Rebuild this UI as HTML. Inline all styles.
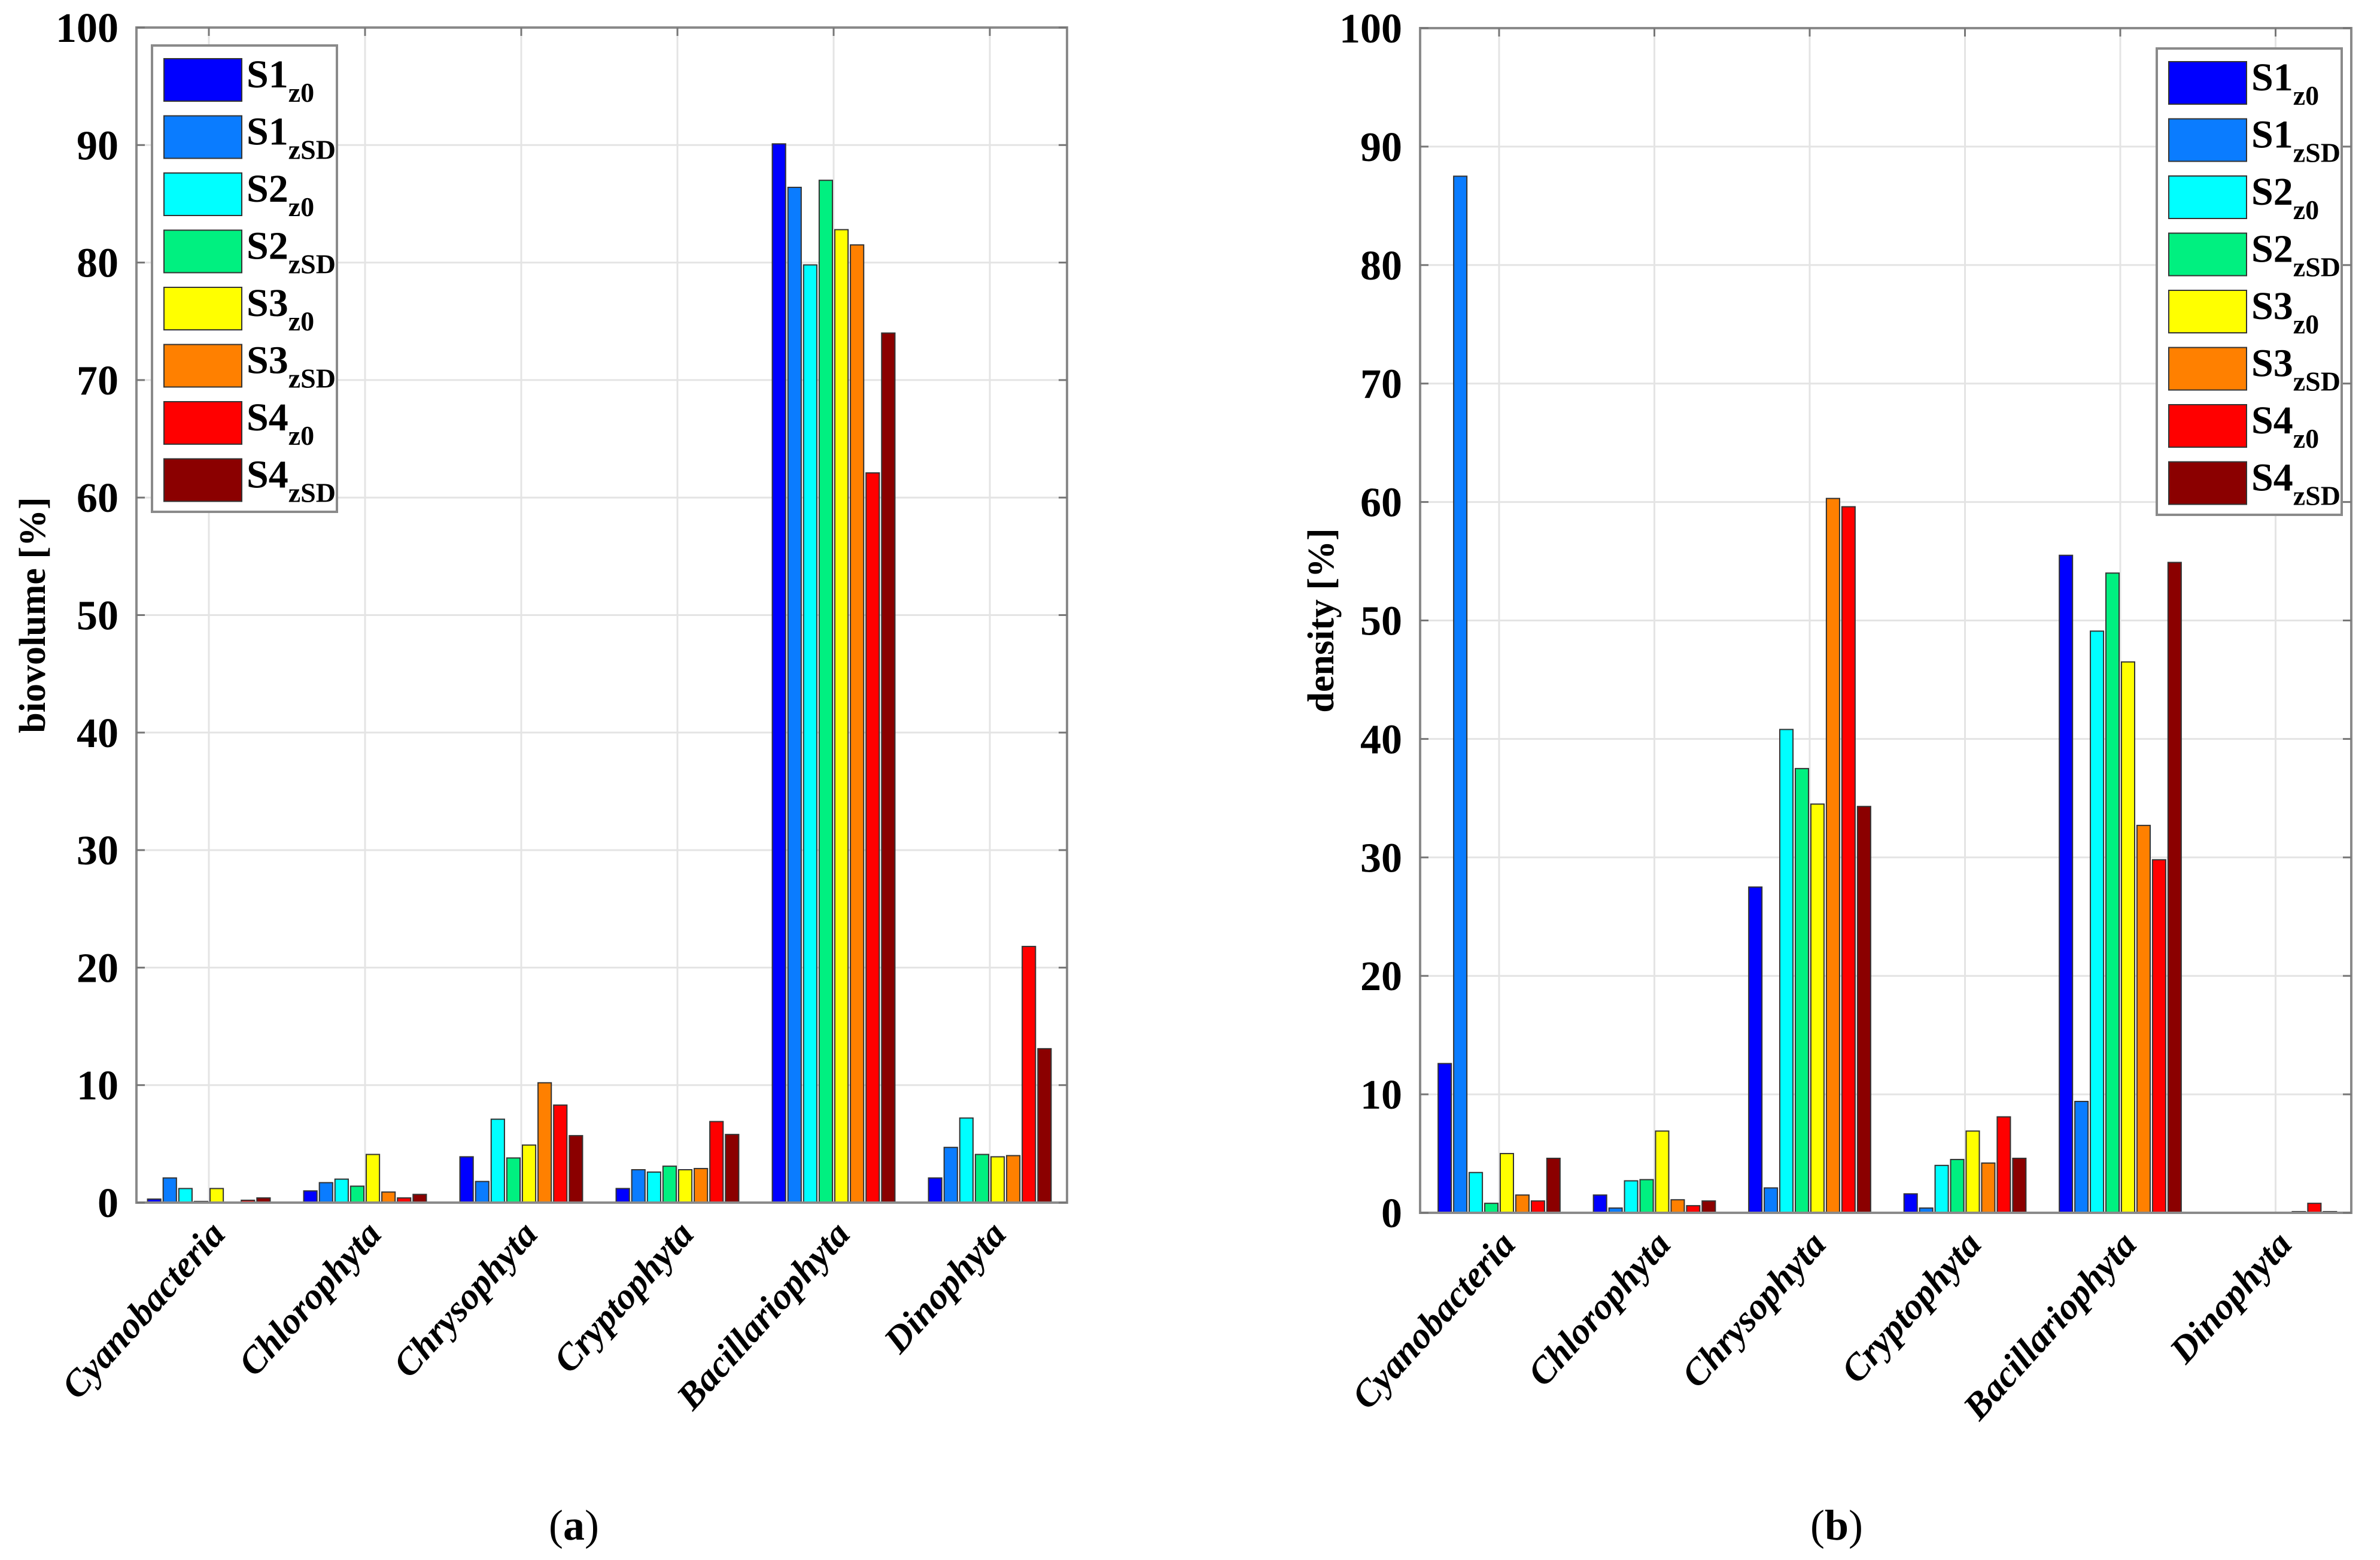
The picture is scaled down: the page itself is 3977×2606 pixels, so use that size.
<!DOCTYPE html>
<html><head><meta charset="utf-8"><style>
html,body{margin:0;padding:0;background:#fff;}
svg{display:block;}
text{font-family:"Liberation Serif",serif;}
</style></head><body>
<svg id="fig" width="3977" height="2606" viewBox="0 0 3977 2606" xmlns="http://www.w3.org/2000/svg"></svg>
<script>
const categories = ["Cyanobacteria","Chlorophyta","Chrysophyta","Cryptophyta","Bacillariophyta","Dinophyta"];
const seriesNames = ["S1|z0","S1|zSD","S2|z0","S2|zSD","S3|z0","S3|zSD","S4|z0","S4|zSD"];
const seriesColors = ["#0000ff","#0a7cff","#00ffff","#00f080","#ffff00","#ff8000","#ff0000","#8b0000"];
const yTicks = [0,10,20,30,40,50,60,70,80,90,100];
// biovolume [%]: rows = series, cols = categories
const bioS1z0  = [0.3, 1.0, 3.9, 1.2, 90.1, 2.1];
const bioS1zSD = [2.1, 1.7, 1.8, 2.8, 86.4, 4.7];
const bioS2z0  = [1.2, 2.0, 7.1, 2.6, 79.8, 7.2];
const bioS2zSD = [0.1, 1.4, 3.8, 3.1, 87.0, 4.1];
const bioS3z0  = [1.2, 4.1, 4.9, 2.8, 82.8, 3.9];
const bioS3zSD = [0.0, 0.9, 10.2, 2.9, 81.5, 4.0];
const bioS4z0  = [0.2, 0.4, 8.3, 6.9, 62.1, 21.8];
const bioS4zSD = [0.4, 0.7, 5.7, 5.8, 74.0, 13.1];
// density [%]
const denS1z0  = [12.6, 1.5, 27.5, 1.6, 55.5, 0.0];
const denS1zSD = [87.5, 0.4, 2.1, 0.4, 9.4, 0.0];
const denS2z0  = [3.4, 2.7, 40.8, 4.0, 49.1, 0.0];
const denS2zSD = [0.8, 2.8, 37.5, 4.5, 54.0, 0.0];
const denS3z0  = [5.0, 6.9, 34.5, 6.9, 46.5, 0.0];
const denS3zSD = [1.5, 1.1, 60.3, 4.2, 32.7, 0.1];
const denS4z0  = [1.0, 0.6, 59.6, 8.1, 29.8, 0.8];
const denS4zSD = [4.6, 1.0, 34.3, 4.6, 54.9, 0.1];

const NS="http://www.w3.org/2000/svg";
const svg=document.getElementById('fig');
function mk(tag,attrs,parent){const e=document.createElementNS(NS,tag);for(const k in attrs)e.setAttribute(k,attrs[k]);(parent||svg).appendChild(e);return e;}

function panel(cfg,data){
  const g=mk('g',{});
  
  
  const y=v=>cfg.y0-(cfg.y0-cfg.y100)*v/100;
  const xc=i=>cfg.c0+cfg.step*i;
  mk('rect',{x:cfg.x0,y:cfg.y100,width:cfg.x1-cfg.x0,height:cfg.y0-cfg.y100,fill:'#fff'},g);
  // grid
  yTicks.forEach(t=>{const l=mk('line',{x1:cfg.x0,x2:cfg.x1,y1:y(t),y2:y(t),stroke:'#e4e4e4','stroke-width':3},g);
    });
  categories.forEach((c,i)=>{const l=mk('line',{x1:xc(i),x2:xc(i),y1:cfg.y100,y2:cfg.y0,stroke:'#e4e4e4','stroke-width':3},g);
    });
  // bars
  const slot=cfg.step*0.8/8, bw=slot*0.85;
  data.forEach((arr,s)=>{arr.forEach((v,i)=>{
    const bx=xc(i)-cfg.step*0.4+slot*s+(slot-bw)/2;
    const r=mk('rect',{x:bx,y:y(v),width:bw,height:Math.max(y(0)-y(v),0.5),fill:seriesColors[s],stroke:'#333','stroke-width':2},g);
    
    
  });});
  // axes box
  const box=mk('rect',{x:cfg.x0,y:cfg.y100,width:cfg.x1-cfg.x0,height:cfg.y0-cfg.y100,fill:'none',stroke:'#8a8a8a','stroke-width':4},g);
  
  // ticks + labels
  yTicks.forEach(t=>{
    mk('line',{x1:cfg.x0,x2:cfg.x0+14,y1:y(t),y2:y(t),stroke:'#777','stroke-width':3},g);
    mk('line',{x1:cfg.x1,x2:cfg.x1-14,y1:y(t),y2:y(t),stroke:'#777','stroke-width':3},g);
    const tx=mk('text',{x:cfg.x0-30,y:y(t)+24,'text-anchor':'end','font-size':70,'font-weight':'bold'},g);
    tx.textContent=t;
  });
  categories.forEach((c,i)=>{
    mk('line',{x1:xc(i),x2:xc(i),y1:cfg.y100,y2:cfg.y100+14,stroke:'#777','stroke-width':3},g);
    const ex=xc(i)+30, ey=cfg.y0+55;
    const tx=mk('text',{x:ex,y:ey,'text-anchor':'end','font-size':62,'font-weight':'bold','font-style':'italic',transform:`rotate(-48 ${ex} ${ey})`},g);
    tx.textContent=c;
  });
  const yl=mk('text',{x:cfg.ytx,y:(cfg.y0+cfg.y100)/2,'text-anchor':'middle','font-size':62,'font-weight':'bold',transform:`rotate(-90 ${cfg.ytx} ${(cfg.y0+cfg.y100)/2})`},g);
  yl.textContent=cfg.ytitle;
  // legend
  const lg=mk('g',{},g);
  
  mk('rect',{x:cfg.lx,y:cfg.ly,width:309,height:779,fill:'#fff',stroke:'#8a8a8a','stroke-width':4},lg);
  seriesNames.forEach((n,s)=>{
    const e=mk('g',{},lg);
    
    const ty=cfg.ly+22+s*95.5;
    mk('rect',{x:cfg.lx+20,y:ty,width:130,height:71,fill:seriesColors[s],stroke:'#333','stroke-width':2},e);
    const [a,b]=n.split('|');
    const t=mk('text',{x:cfg.lx+158,y:ty+48,'font-size':66,'font-weight':'bold'},e);
    t.textContent=a;
    const sub=mk('tspan',{dy:24,'font-size':46},t);sub.textContent=b;
  });
  const cap=mk('text',{x:cfg.capx,y:2572,'text-anchor':'middle','font-size':72},g);
  
  cap.appendChild(document.createTextNode('('));
  const bb=mk('tspan',{'font-weight':'bold'},cap);bb.textContent=cfg.letter;
  cap.appendChild(document.createTextNode(')'));
}
panel({name:'chart-biovolume',x0:228,x1:1783,y100:46,y0:2009,c0:349,step:261,ytx:75,ytitle:'biovolume [%]',lx:254,ly:76,capx:959,letter:'a'},
  [bioS1z0,bioS1zSD,bioS2z0,bioS2zSD,bioS3z0,bioS3zSD,bioS4z0,bioS4zSD]);
panel({name:'chart-density',x0:2373,x1:3929,y100:47,y0:2026,c0:2505,step:259.5,ytx:2228,ytitle:'density [%]',lx:3604,ly:81,capx:3069,letter:'b'},
  [denS1z0,denS1zSD,denS2z0,denS2zSD,denS3z0,denS3zSD,denS4z0,denS4zSD]);
</script>
</body></html>
